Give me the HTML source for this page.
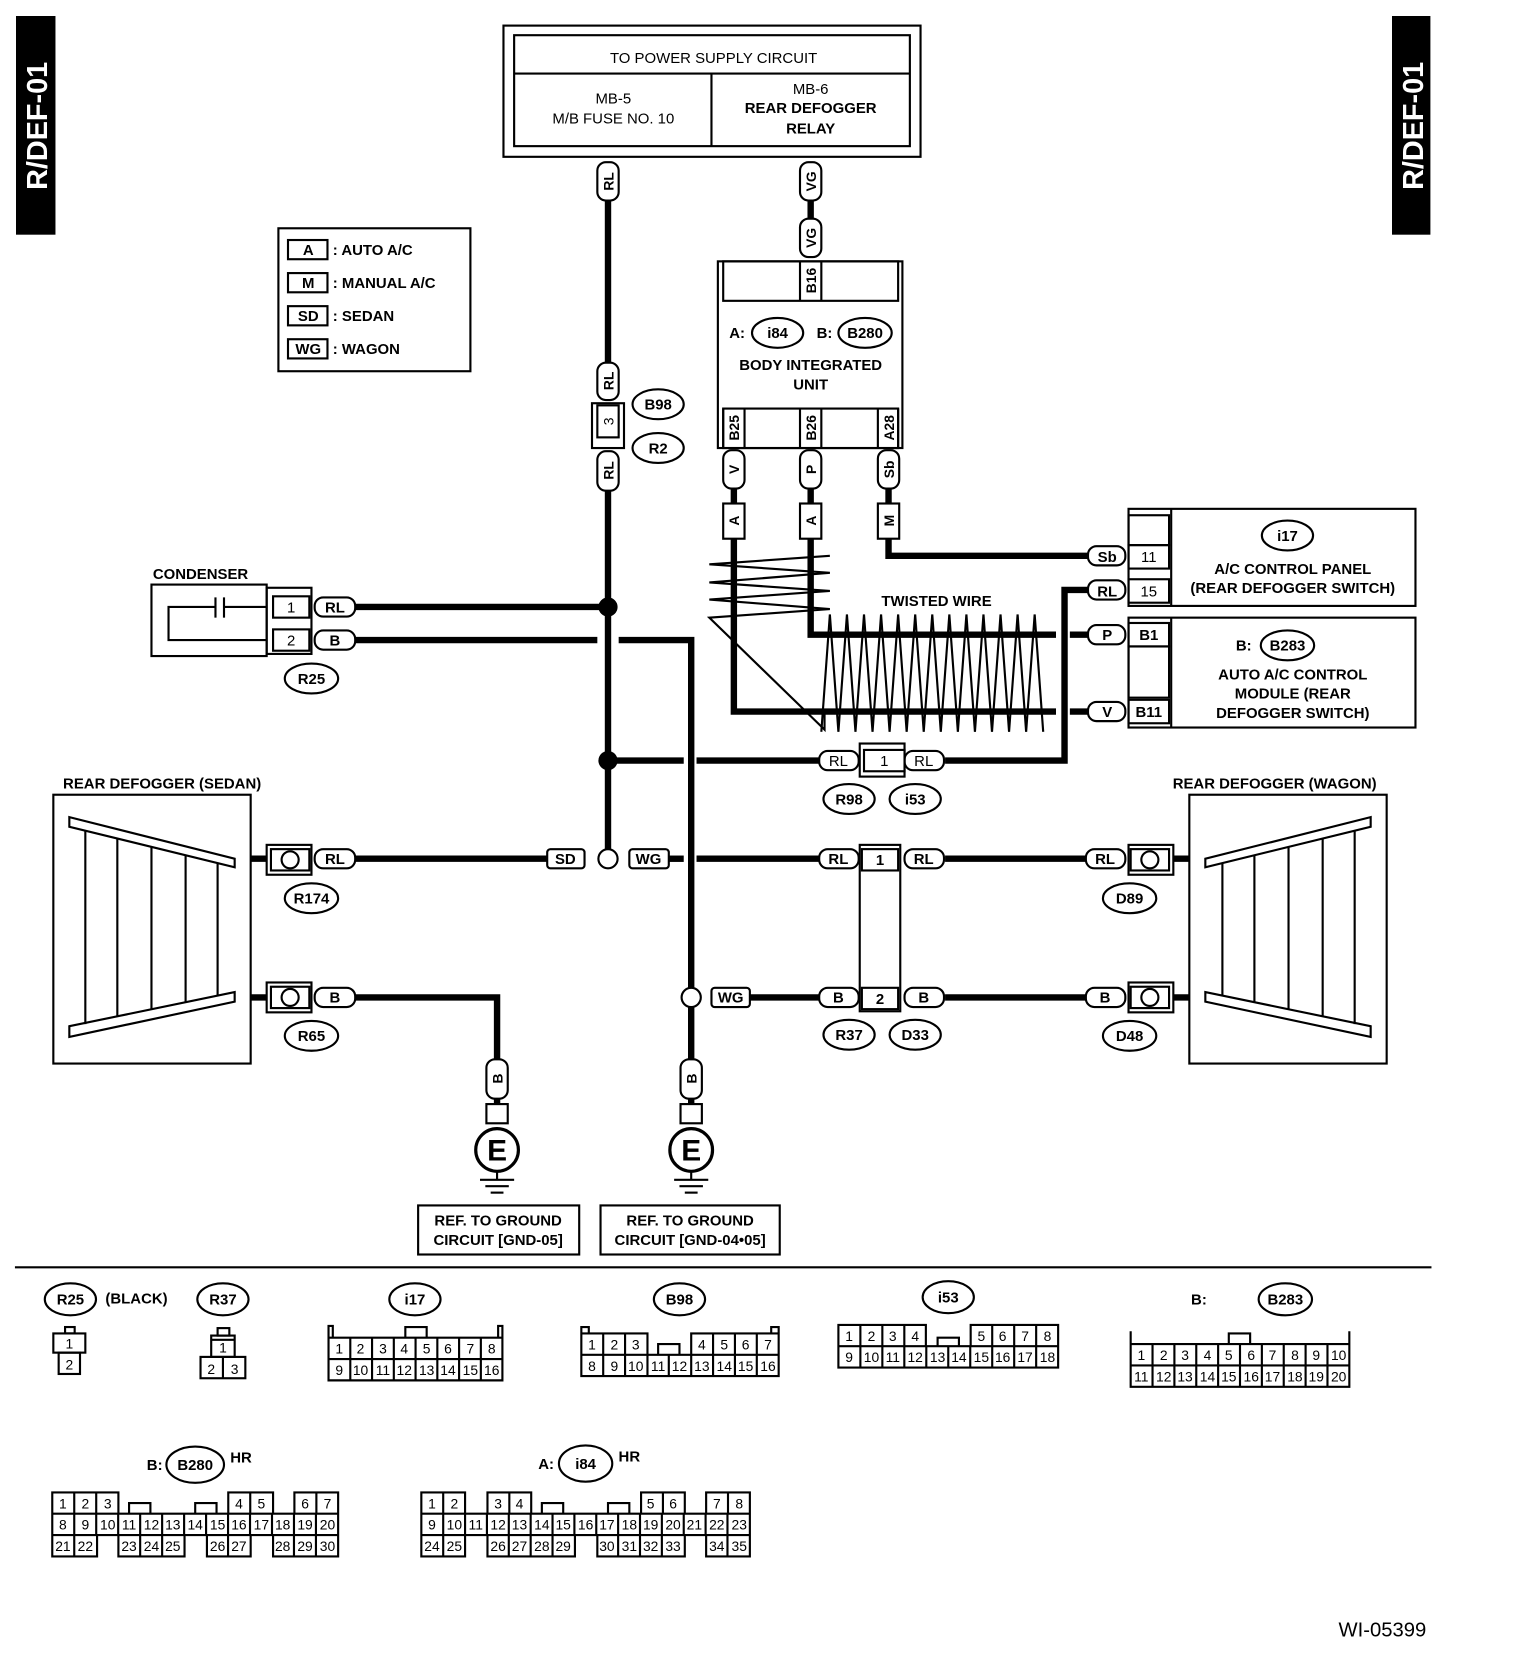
<!DOCTYPE html>
<html><head><meta charset="utf-8"><style>
html,body{margin:0;padding:0;background:#fff;}
svg{display:block;}
text{font-family:"Liberation Sans",Arial,sans-serif;fill:#000;}
.b{font-weight:bold;}
</style></head><body>
<svg width="1536" height="1678" viewBox="0 0 1440 1573" preserveAspectRatio="none" xmlns="http://www.w3.org/2000/svg">
<rect x="0" y="0" width="1440" height="1573" fill="#fff"/>
<!-- side tabs -->
<rect x="15" y="15" width="37" height="205" fill="#000"/>
<text x="0" y="0" transform="translate(44,118) rotate(-90)" text-anchor="middle" font-size="27" class="b" style="fill:#fff">R/DEF-01</text>
<rect x="1305" y="15" width="36" height="205" fill="#000"/>
<text x="0" y="0" transform="translate(1334,118) rotate(-90)" text-anchor="middle" font-size="27" class="b" style="fill:#fff">R/DEF-01</text>

<g fill="none" stroke="#000" stroke-width="2">
<!-- top box -->
<rect x="472" y="24" width="391" height="123"/>
<rect x="482" y="33" width="371" height="104"/>
<line x1="482" y1="69" x2="853" y2="69"/>
<line x1="667" y1="69" x2="667" y2="137"/>
<!-- legend -->
<rect x="261" y="214" width="180" height="134"/>
<rect x="270" y="225" width="37" height="18"/>
<rect x="270" y="256" width="37" height="18"/>
<rect x="270" y="287" width="37" height="18"/>
<rect x="270" y="318" width="37" height="18"/>
<!-- body integrated unit -->
<rect x="673" y="245" width="173" height="175"/>
<rect x="678" y="245" width="164" height="37"/>
<line x1="750" y1="245" x2="750" y2="282"/><line x1="770" y1="245" x2="770" y2="282"/>
<rect x="678" y="383" width="164" height="37"/>
<line x1="678" y1="383" x2="678" y2="420"/><line x1="698" y1="383" x2="698" y2="420"/>
<line x1="750" y1="383" x2="750" y2="420"/><line x1="770" y1="383" x2="770" y2="420"/>
<line x1="823" y1="383" x2="823" y2="420"/><line x1="842" y1="383" x2="842" y2="420"/>
<!-- i17 box -->
<rect x="1058" y="477" width="269" height="91"/>
<line x1="1098" y1="477" x2="1098" y2="568"/>
<rect x="1058" y="483" width="38" height="28"/>
<rect x="1058" y="511" width="38" height="22"/>
<rect x="1058" y="543" width="38" height="22"/>
<!-- B283 box -->
<rect x="1058" y="579" width="269" height="103"/>
<line x1="1098" y1="579" x2="1098" y2="682"/>
<rect x="1058" y="584" width="38" height="22"/>
<rect x="1058" y="606" width="38" height="48"/>
<rect x="1058" y="656" width="38" height="22"/>
<!-- condenser -->
<rect x="142" y="548" width="108" height="67"/>
<polyline points="250,569 210,569"/><line x1="210" y1="560" x2="210" y2="579"/><line x1="202" y1="560" x2="202" y2="579"/>
<polyline points="202,569 158,569 158,600 250,600"/>
<rect x="250" y="551" width="42" height="62"/>
<rect x="256" y="559" width="34" height="20"/>
<rect x="256" y="590" width="34" height="20"/>
<!-- sedan defogger -->
<rect x="50" y="745" width="185" height="252"/>
<polygon points="65,766 220,805 220,813 65,775"/>
<polygon points="65,962 220,930 220,939 65,972"/>
<line x1="80" y1="779" x2="80" y2="960"/><line x1="110" y1="786" x2="110" y2="953"/><line x1="142" y1="794" x2="142" y2="946"/><line x1="174" y1="802" x2="174" y2="940"/><line x1="204" y1="809" x2="204" y2="933"/>
<!-- wagon defogger -->
<rect x="1115" y="745" width="185" height="252"/>
<polygon points="1285,766 1130,805 1130,813 1285,775"/>
<polygon points="1285,962 1130,930 1130,939 1285,972"/>
<line x1="1270" y1="779" x2="1270" y2="960"/><line x1="1240" y1="786" x2="1240" y2="953"/><line x1="1208" y1="794" x2="1208" y2="946"/><line x1="1176" y1="802" x2="1176" y2="940"/><line x1="1146" y1="809" x2="1146" y2="933"/>
<!-- ground boxes -->
<rect x="392" y="1130" width="151" height="46"/>
<rect x="563" y="1130" width="168" height="46"/>
</g>

<!-- wires -->
<g fill="none" stroke="#000" stroke-width="6">
<line x1="570" y1="188" x2="570" y2="340"/>
<line x1="570" y1="460" x2="570" y2="796"/>
<line x1="760" y1="188" x2="760" y2="205"/>
<line x1="688" y1="458" x2="688" y2="472"/><line x1="760" y1="458" x2="760" y2="472"/><line x1="833" y1="458" x2="833" y2="472"/>
<polyline points="833,505 833,521 1020,521"/>
<polyline points="688,505 688,667 990,667"/>
<polyline points="760,505 760,595 990,595"/>
<line x1="1003" y1="595" x2="1020" y2="595"/><line x1="1003" y1="667" x2="1020" y2="667"/>
<polyline points="1020,553 998,553 998,713 886,713"/>
<line x1="768" y1="713" x2="653" y2="713"/><line x1="641" y1="713" x2="570" y2="713"/>
<line x1="333" y1="569" x2="570" y2="569"/>
<line x1="333" y1="600" x2="560" y2="600"/>
<polyline points="580,600 648,600 648,926"/>
<line x1="648" y1="944" x2="648" y2="993"/>
<line x1="333" y1="805" x2="513" y2="805"/>
<line x1="627" y1="805" x2="641" y2="805"/><line x1="653" y1="805" x2="768" y2="805"/>
<line x1="886" y1="805" x2="1018" y2="805"/>
<polyline points="333,935 466,935 466,993"/>
<line x1="703" y1="935" x2="768" y2="935"/>
<line x1="886" y1="935" x2="1018" y2="935"/>
<line x1="235" y1="805" x2="250" y2="805"/><line x1="235" y1="935" x2="250" y2="935"/>
<line x1="1100" y1="805" x2="1115" y2="805"/><line x1="1100" y1="935" x2="1115" y2="935"/>
<line x1="466" y1="1030" x2="466" y2="1035"/><line x1="648" y1="1030" x2="648" y2="1035"/>
</g>
<g fill="none" stroke="#000" stroke-width="2">
<polyline points="778,521 665,529 778,537 665,546 778,554 665,562 778,571 665,579 773,684 773,665"/>
<polyline points="770,686 778,576 786,686 794,576 802,686 810,576 818,686 826,576 834,686 842,576 850,686 858,576 866,686 874,576 882,686 890,576 898,686 906,576 914,686 922,576 930,686 938,576 946,686 954,576 962,686 970,576 978,686"/>
</g>
<circle cx="570" cy="569" r="9" fill="#000"/>
<circle cx="570" cy="713" r="9" fill="#000"/>
<circle cx="570" cy="805" r="9" fill="#fff" stroke="#000" stroke-width="2"/>
<circle cx="648" cy="935" r="9" fill="#fff" stroke="#000" stroke-width="2"/>

<!-- vertical pills -->
<g fill="#fff" stroke="#000" stroke-width="2">
<rect x="560" y="152" width="20" height="36" rx="8"/>
<rect x="560" y="340" width="20" height="35" rx="8"/>
<rect x="560" y="423" width="20" height="37" rx="8"/>
<rect x="750" y="152" width="20" height="36" rx="8"/>
<rect x="750" y="205" width="20" height="36" rx="8"/>
<rect x="678" y="422" width="20" height="36" rx="8"/>
<rect x="750" y="422" width="20" height="36" rx="8"/>
<rect x="823" y="422" width="20" height="36" rx="8"/>
<rect x="678" y="472" width="20" height="33"/>
<rect x="750" y="472" width="20" height="33"/>
<rect x="823" y="472" width="20" height="33"/>
<rect x="456" y="993" width="20" height="37" rx="8"/>
<rect x="638" y="993" width="20" height="37" rx="8"/>
<rect x="555" y="378" width="30" height="42"/>
<rect x="560" y="380" width="20" height="30"/>
<!-- horizontal pills -->
<rect x="295" y="560" width="38" height="18" rx="8"/>
<rect x="295" y="591" width="38" height="18" rx="8"/>
<rect x="1020" y="512" width="35" height="18" rx="8"/>
<rect x="1020" y="544" width="35" height="18" rx="8"/>
<rect x="1020" y="586" width="35" height="18" rx="8"/>
<rect x="1020" y="658" width="35" height="18" rx="8"/>
<rect x="768" y="704" width="37" height="18" rx="8"/>
<rect x="848" y="704" width="37" height="18" rx="8"/>
<rect x="806" y="697" width="42" height="31"/>
<rect x="810" y="703" width="38" height="20"/>
<rect x="295" y="796" width="38" height="18" rx="8"/>
<rect x="295" y="926" width="38" height="18" rx="8"/>
<rect x="513" y="796" width="35" height="18" rx="3"/>
<rect x="590" y="796" width="37" height="18" rx="3"/>
<rect x="667" y="926" width="36" height="18" rx="3"/>
<rect x="768" y="796" width="37" height="18" rx="8"/>
<rect x="848" y="796" width="37" height="18" rx="8"/>
<rect x="768" y="926" width="37" height="18" rx="8"/>
<rect x="848" y="926" width="37" height="18" rx="8"/>
<rect x="1018" y="796" width="37" height="18" rx="8"/>
<rect x="1018" y="926" width="37" height="18" rx="8"/>
<rect x="806" y="792" width="38" height="156"/>
<rect x="808" y="796" width="34" height="20"/>
<rect x="808" y="926" width="34" height="20"/>
<!-- defogger connectors -->
<rect x="250" y="792" width="42" height="28"/><rect x="254" y="796" width="36" height="20"/>
<rect x="250" y="921" width="42" height="28"/><rect x="254" y="925" width="36" height="20"/>
<rect x="1058" y="792" width="42" height="28"/><rect x="1060" y="796" width="36" height="20"/>
<rect x="1058" y="921" width="42" height="28"/><rect x="1060" y="925" width="36" height="20"/>
<circle cx="272" cy="806" r="8"/><circle cx="272" cy="935" r="8"/><circle cx="1078" cy="806" r="8"/><circle cx="1078" cy="935" r="8"/>
<!-- ovals -->
<ellipse cx="617" cy="379" rx="24" ry="14"/>
<ellipse cx="617" cy="420" rx="24" ry="14"/>
<ellipse cx="729" cy="312" rx="24" ry="14"/>
<ellipse cx="811" cy="312" rx="25" ry="14"/>
<ellipse cx="1207" cy="502" rx="24" ry="14"/>
<ellipse cx="1207" cy="605" rx="25" ry="14"/>
<ellipse cx="292" cy="636" rx="25" ry="14"/>
<ellipse cx="796" cy="749" rx="24" ry="14"/>
<ellipse cx="858" cy="749" rx="24" ry="14"/>
<ellipse cx="292" cy="842" rx="25" ry="14"/>
<ellipse cx="292" cy="971" rx="25" ry="14"/>
<ellipse cx="1059" cy="842" rx="25" ry="14"/>
<ellipse cx="1059" cy="971" rx="25" ry="14"/>
<ellipse cx="796" cy="970" rx="24" ry="14"/>
<ellipse cx="858" cy="970" rx="24" ry="14"/>
<!-- ground -->
<rect x="456" y="1035" width="20" height="18"/>
<rect x="638" y="1035" width="20" height="18"/>
<circle cx="466" cy="1078" r="20" stroke-width="3"/>
<circle cx="648" cy="1078" r="20" stroke-width="3"/>
</g>
<g stroke="#000" stroke-width="2">
<line x1="466" y1="1098" x2="466" y2="1106"/><line x1="648" y1="1098" x2="648" y2="1106"/>
<line x1="450" y1="1106" x2="482" y2="1106"/><line x1="455" y1="1112" x2="477" y2="1112"/><line x1="460" y1="1118" x2="472" y2="1118"/>
<line x1="632" y1="1106" x2="664" y2="1106"/><line x1="637" y1="1112" x2="659" y2="1112"/><line x1="642" y1="1118" x2="654" y2="1118"/>
<line x1="14" y1="1188" x2="1342" y2="1188"/>
</g>

<!-- texts main -->
<g font-size="14" text-anchor="middle">
<text x="669" y="59">TO POWER SUPPLY CIRCUIT</text>
<text x="575" y="97">MB-5</text>
<text x="575" y="116">M/B FUSE NO. 10</text>
<text x="760" y="88">MB-6</text>
<text x="760" y="106" class="b">REAR DEFOGGER</text>
<text x="760" y="125" class="b">RELAY</text>
<text x="289" y="239" class="b">A</text><text x="289" y="270" class="b">M</text><text x="289" y="301" class="b">SD</text><text x="289" y="332" class="b">WG</text>
</g>
<g font-size="14" class="b">
<text x="312" y="239">: AUTO A/C</text>
<text x="312" y="270">: MANUAL A/C</text>
<text x="312" y="301">: SEDAN</text>
<text x="312" y="332">: WAGON</text>
</g>
<g font-size="14" text-anchor="middle" class="b">
<text x="760" y="347">BODY INTEGRATED</text>
<text x="760" y="365">UNIT</text>
<text x="691" y="317">A:</text><text x="773" y="317">B:</text>
<text x="729" y="317">i84</text><text x="811" y="317">B280</text>
<text x="617" y="384">B98</text><text x="617" y="425">R2</text>
<text x="1207" y="507">i17</text>
<text x="1212" y="538">A/C CONTROL PANEL</text>
<text x="1212" y="556">(REAR DEFOGGER SWITCH)</text>
<text x="1166" y="610">B:</text><text x="1207" y="610">B283</text>
<text x="1212" y="637">AUTO A/C CONTROL</text>
<text x="1212" y="655">MODULE (REAR</text>
<text x="1212" y="673">DEFOGGER SWITCH)</text>
<text x="1077" y="527" font-weight="normal">11</text><text x="1077" y="559" font-weight="normal">15</text>
<text x="1077" y="600">B1</text><text x="1077" y="672">B11</text>
<text x="1038" y="527">Sb</text><text x="1038" y="559">RL</text><text x="1038" y="600">P</text><text x="1038" y="672">V</text>
<text x="878" y="568">TWISTED WIRE</text>
<text x="188" y="543">CONDENSER</text>
<text x="273" y="574" font-weight="normal">1</text><text x="273" y="605" font-weight="normal">2</text>
<text x="314" y="574">RL</text><text x="314" y="605">B</text>
<text x="292" y="641">R25</text>
<text x="786" y="718" font-weight="normal">RL</text><text x="866" y="718" font-weight="normal">RL</text><text x="829" y="718" font-weight="normal">1</text>
<text x="796" y="754">R98</text><text x="858" y="754">i53</text>
<text x="152" y="739">REAR DEFOGGER (SEDAN)</text>
<text x="1195" y="739">REAR DEFOGGER (WAGON)</text>
<text x="314" y="810">RL</text><text x="314" y="940">B</text>
<text x="530" y="810">SD</text><text x="608" y="810">WG</text><text x="685" y="940">WG</text>
<text x="786" y="810">RL</text><text x="866" y="810">RL</text><text x="825" y="811">1</text>
<text x="786" y="940">B</text><text x="866" y="940">B</text><text x="825" y="941">2</text>
<text x="1036" y="810">RL</text><text x="1036" y="940">B</text>
<text x="292" y="847">R174</text><text x="292" y="976">R65</text>
<text x="1059" y="847">D89</text><text x="1059" y="976">D48</text>
<text x="796" y="975">R37</text><text x="858" y="975">D33</text>
<text x="467" y="1149">REF. TO GROUND</text><text x="467" y="1167">CIRCUIT [GND-05]</text>
<text x="647" y="1149">REF. TO GROUND</text><text x="647" y="1167">CIRCUIT [GND-04•05]</text>
<text x="466" y="1088" font-size="28">E</text><text x="648" y="1088" font-size="28">E</text>
</g>
<!-- rotated texts -->
<g font-size="13" text-anchor="middle" class="b">
<text transform="translate(575,170) rotate(-90)">RL</text>
<text transform="translate(575,357) rotate(-90)">RL</text>
<text transform="translate(575,395) rotate(-90)" font-weight="normal">3</text>
<text transform="translate(575,441) rotate(-90)">RL</text>
<text transform="translate(765,170) rotate(-90)">VG</text>
<text transform="translate(765,223) rotate(-90)">VG</text>
<text transform="translate(765,263) rotate(-90)">B16</text>
<text transform="translate(693,401) rotate(-90)">B25</text>
<text transform="translate(765,401) rotate(-90)">B26</text>
<text transform="translate(838,401) rotate(-90)">A28</text>
<text transform="translate(693,440) rotate(-90)">V</text>
<text transform="translate(765,440) rotate(-90)">P</text>
<text transform="translate(838,440) rotate(-90)">Sb</text>
<text transform="translate(693,488) rotate(-90)">A</text>
<text transform="translate(765,488) rotate(-90)">A</text>
<text transform="translate(838,488) rotate(-90)">M</text>
<text transform="translate(471,1011) rotate(-90)">B</text>
<text transform="translate(653,1011) rotate(-90)">B</text>
</g>

<!-- bottom connector diagrams -->
<g fill="none" stroke="#000" stroke-width="2">
<ellipse cx="66" cy="1218" rx="24" ry="15"/>
<ellipse cx="209" cy="1218" rx="24" ry="15"/>
<ellipse cx="389" cy="1218" rx="24" ry="15"/>
<ellipse cx="637" cy="1218" rx="24" ry="15"/>
<ellipse cx="889" cy="1216" rx="24" ry="15"/>
<ellipse cx="1205" cy="1218" rx="25" ry="15"/>
<ellipse cx="183" cy="1373" rx="27" ry="17"/>
<ellipse cx="549" cy="1372" rx="25" ry="17"/>
<!-- R25 -->
<rect x="50" y="1250" width="30" height="18"/><rect x="55" y="1268" width="20" height="20"/><rect x="61" y="1244" width="9" height="6"/>
<!-- R37 -->
<rect x="198" y="1252" width="22" height="20"/><line x1="198" y1="1256" x2="220" y2="1256"/><rect x="188" y="1272" width="42" height="20"/><line x1="209" y1="1272" x2="209" y2="1292"/><rect x="204" y="1245" width="11" height="7"/>
<!-- i17 -->
<path d="M308,1254h163v40h-163zM308,1274h163M328.4,1254v40M348.8,1254v40M369.2,1254v40M389.6,1254v40M410,1254v40M430.4,1254v40M450.8,1254v40M380,1254v-10h20v10M308,1254v-11h4v11M467,1254v-11h4v11"/>
<!-- B98 -->
<path d="M545,1250h62v20h-62zM648,1250h82v20h-82zM545,1270h185v20h-185zM565.5,1250v40M586,1250v40M607,1270v20M627,1270v20M648,1270v20M668.5,1250v40M689,1250v40M709.5,1250v40M617,1270v-10h20v10M545,1250v-6h7v6M723,1250v-6h7v6"/>
<!-- i53 -->
<path d="M786,1242h82v20h-82zM910,1242h82v20h-82zM786,1262h206v20h-206zM806.6,1242v40M827.2,1242v40M847.8,1242v40M868.4,1262v20M889,1262v20M909.6,1262v20M930.2,1242v40M950.8,1242v40M971.4,1242v40M879,1262v-8h20v8"/>
<!-- B283 -->
<path d="M1060,1260h205v40h-205zM1060,1280h205M1080.5,1260v40M1101,1260v40M1121.5,1260v40M1142,1260v40M1162.5,1260v40M1183,1260v40M1203.5,1260v40M1224,1260v40M1244.5,1260v40M1152,1260v-10h20v10M1060,1260v-12M1265,1260v-12"/>
<!-- B280 -->
<path d="M49,1399h62v20h-62zM214,1399h42v20h-42zM276,1399h41v20h-41zM49,1419h268v20h-268zM49,1439h42v20h-42zM111,1439h62v20h-62zM194,1439h41v20h-41zM256,1439h61v20h-61zM69.6,1399v20M90.2,1399v20M234.6,1399v20M296.6,1399v20M69.6,1419v40M90.2,1419v20M110.8,1419v20M131.4,1419v40M152,1419v40M172.6,1419v20M193.2,1419v20M213.8,1419v40M234.4,1419v20M255,1419v20M275.6,1419v40M296.2,1419v40M121,1419v-10h20v10M183,1419v-10h20v10"/>
<!-- i84 -->
<path d="M395,1399h41v20h-41zM457,1399h41v20h-41zM601,1399h41v20h-41zM662,1399h41v20h-41zM395,1419h308v20h-308zM395,1439h41v20h-41zM457,1439h82v20h-82zM560,1439h82v20h-82zM662,1439h41v20h-41zM415.5,1399v20M477.5,1399v20M621.5,1399v20M682.5,1399v20M415.5,1419v40M436,1419v20M456.5,1419v20M477,1419v40M497.5,1419v40M518,1419v40M538.5,1419v20M559,1419v20M579.5,1419v40M600,1419v40M620.5,1419v40M641,1419v20M661.5,1419v20M682,1419v40M508,1419v-10h20v10M570,1419v-10h20v10"/>
</g>
<g font-size="14" text-anchor="middle" class="b">
<text x="66" y="1223">R25</text><text x="128" y="1222">(BLACK)</text>
<text x="209" y="1223">R37</text><text x="389" y="1223">i17</text><text x="637" y="1223">B98</text><text x="889" y="1221">i53</text>
<text x="1124" y="1223">B:</text><text x="1205" y="1223">B283</text>
<text x="145" y="1378">B:</text><text x="183" y="1378">B280</text><text x="226" y="1371">HR</text>
<text x="512" y="1377">A:</text><text x="549" y="1377">i84</text><text x="590" y="1370">HR</text>
</g>
<g font-size="13" text-anchor="middle">
<text x="65" y="1264">1</text><text x="65" y="1284">2</text>
<text x="209" y="1268">1</text><text x="198" y="1288">2</text><text x="220" y="1288">3</text>
<text x="318" y="1269">1</text><text x="338" y="1269">2</text><text x="359" y="1269">3</text><text x="379" y="1269">4</text><text x="400" y="1269">5</text><text x="420" y="1269">6</text><text x="441" y="1269">7</text><text x="461" y="1269">8</text>
<text x="318" y="1289">9</text><text x="338" y="1289">10</text><text x="359" y="1289">11</text><text x="379" y="1289">12</text><text x="400" y="1289">13</text><text x="420" y="1289">14</text><text x="441" y="1289">15</text><text x="461" y="1289">16</text>
<text x="555" y="1265">1</text><text x="576" y="1265">2</text><text x="596" y="1265">3</text><text x="658" y="1265">4</text><text x="679" y="1265">5</text><text x="699" y="1265">6</text><text x="720" y="1265">7</text>
<text x="555" y="1285">8</text><text x="576" y="1285">9</text><text x="596" y="1285">10</text><text x="617" y="1285">11</text><text x="637" y="1285">12</text><text x="658" y="1285">13</text><text x="679" y="1285">14</text><text x="699" y="1285">15</text><text x="720" y="1285">16</text>
<text x="796" y="1257">1</text><text x="817" y="1257">2</text><text x="837" y="1257">3</text><text x="858" y="1257">4</text><text x="920" y="1257">5</text><text x="940" y="1257">6</text><text x="961" y="1257">7</text><text x="982" y="1257">8</text>
<text x="796" y="1277">9</text><text x="817" y="1277">10</text><text x="837" y="1277">11</text><text x="858" y="1277">12</text><text x="879" y="1277">13</text><text x="899" y="1277">14</text><text x="920" y="1277">15</text><text x="940" y="1277">16</text><text x="961" y="1277">17</text><text x="982" y="1277">18</text>
<text x="1070" y="1275">1</text><text x="1091" y="1275">2</text><text x="1111" y="1275">3</text><text x="1132" y="1275">4</text><text x="1152" y="1275">5</text><text x="1173" y="1275">6</text><text x="1193" y="1275">7</text><text x="1214" y="1275">8</text><text x="1234" y="1275">9</text><text x="1255" y="1275">10</text>
<text x="1070" y="1295">11</text><text x="1091" y="1295">12</text><text x="1111" y="1295">13</text><text x="1132" y="1295">14</text><text x="1152" y="1295">15</text><text x="1173" y="1295">16</text><text x="1193" y="1295">17</text><text x="1214" y="1295">18</text><text x="1234" y="1295">19</text><text x="1255" y="1295">20</text>
<text x="59" y="1414">1</text><text x="80" y="1414">2</text><text x="101" y="1414">3</text><text x="224" y="1414">4</text><text x="245" y="1414">5</text><text x="286" y="1414">6</text><text x="307" y="1414">7</text>
<text x="59" y="1434">8</text><text x="80" y="1434">9</text><text x="101" y="1434">10</text><text x="121" y="1434">11</text><text x="142" y="1434">12</text><text x="162" y="1434">13</text><text x="183" y="1434">14</text><text x="204" y="1434">15</text><text x="224" y="1434">16</text><text x="245" y="1434">17</text><text x="265" y="1434">18</text><text x="286" y="1434">19</text><text x="307" y="1434">20</text>
<text x="59" y="1454">21</text><text x="80" y="1454">22</text><text x="121" y="1454">23</text><text x="142" y="1454">24</text><text x="162" y="1454">25</text><text x="204" y="1454">26</text><text x="224" y="1454">27</text><text x="265" y="1454">28</text><text x="286" y="1454">29</text><text x="307" y="1454">30</text>
<text x="405" y="1414">1</text><text x="426" y="1414">2</text><text x="467" y="1414">3</text><text x="487" y="1414">4</text><text x="610" y="1414">5</text><text x="631" y="1414">6</text><text x="672" y="1414">7</text><text x="693" y="1414">8</text>
<text x="405" y="1434">9</text><text x="426" y="1434">10</text><text x="446" y="1434">11</text><text x="467" y="1434">12</text><text x="487" y="1434">13</text><text x="508" y="1434">14</text><text x="528" y="1434">15</text><text x="549" y="1434">16</text><text x="569" y="1434">17</text><text x="590" y="1434">18</text><text x="610" y="1434">19</text><text x="631" y="1434">20</text><text x="651" y="1434">21</text><text x="672" y="1434">22</text><text x="693" y="1434">23</text>
<text x="405" y="1454">24</text><text x="426" y="1454">25</text><text x="467" y="1454">26</text><text x="487" y="1454">27</text><text x="508" y="1454">28</text><text x="528" y="1454">29</text><text x="569" y="1454">30</text><text x="590" y="1454">31</text><text x="610" y="1454">32</text><text x="631" y="1454">33</text><text x="672" y="1454">34</text><text x="693" y="1454">35</text>
</g>
<text x="1296" y="1534" font-size="19" text-anchor="middle">WI-05399</text>
</svg>
</body></html>
